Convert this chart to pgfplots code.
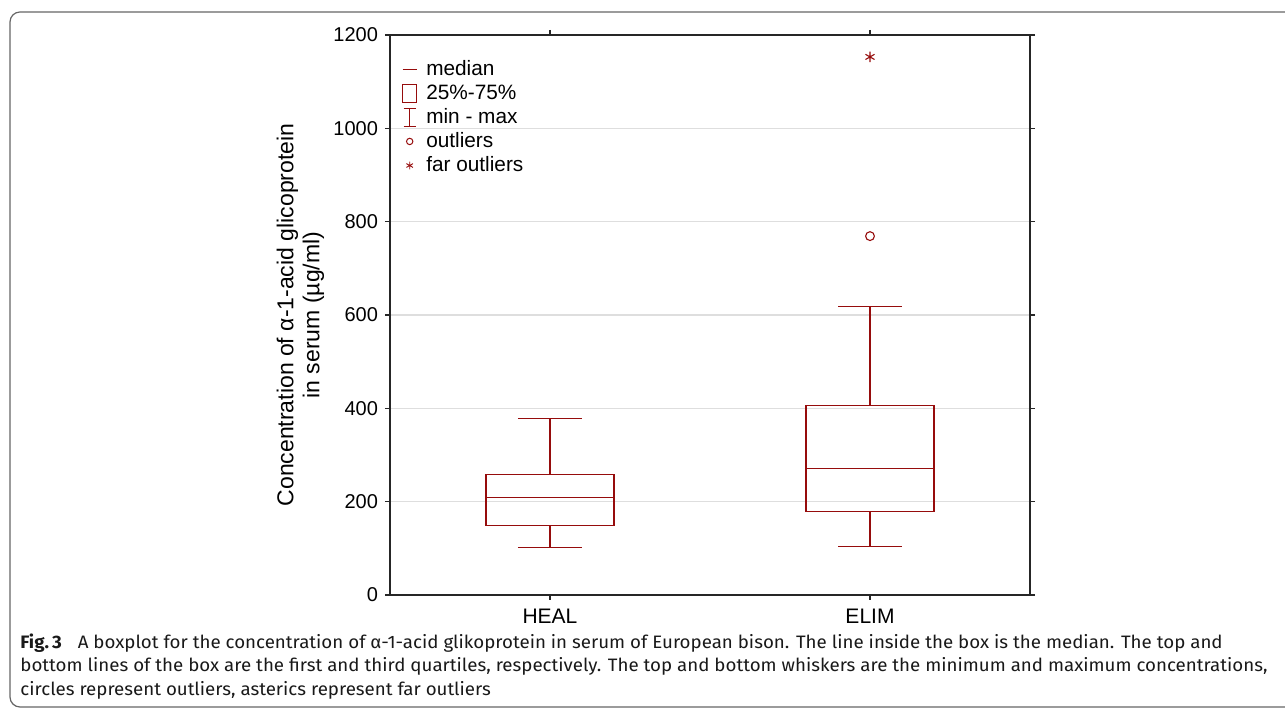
\documentclass[border=0pt]{standalone}
\usepackage{fontspec}
\setmainfont{Liberation Sans}
\newfontfamily\capfont[FakeStretch=1.04]{Fira Sans}
\usepackage{pgfplots}
\pgfplotsset{compat=1.18}
\definecolor{dred}{RGB}{150,12,12}
\definecolor{gridgray}{RGB}{222,222,222}
\begin{document}
\begin{tikzpicture}
\path (-195pt,-60pt) rectangle (447.5pt,297.5pt);
\begin{axis}[
  at={(0,0)}, anchor=south west, scale only axis, width=320pt, height=280pt,
  xmin=-0.5, xmax=1.5, ymin=0, ymax=1200,
  xtick={0,1}, xticklabels={HEAL,ELIM},
  ytick={0,200,...,1200},
  ymajorgrids, grid style={gridgray, line width=0.6pt},
  tick align=outside, major tick length=2.5pt,
  axis line style={black!85, line width=0.8pt},
  tick style={black!85, line width=0.8pt},
  yticklabel style={font=\fontsize{10}{12}\selectfont},
  xticklabel style={font=\fontsize{10.5}{12}\selectfont, yshift=-1pt},
  /pgf/number format/assume math mode=true,
  /pgf/number format/1000 sep={},
  ylabel={Concentration of α-1-acid glicoprotein\\in serum (µg/ml)},
  ylabel style={align=center, at={(axis description cs:-0.14,0.5)}, anchor=center, font=\fontsize{11.5}{13}\selectfont},
  legend style={at={(0.009,0.969)}, anchor=north west, draw=none, fill=none,
    font=\fontsize{10.4}{12}\selectfont, row sep=-1pt, column sep=2.5pt},
  legend cell align=left,
  every axis plot/.append style={dred, line width=0.55pt},
]
% HEAL: box, median, whiskers
\addplot[forget plot] coordinates {(-0.2,148) (0.2,148) (0.2,259) (-0.2,259) (-0.2,148)};
\addplot[forget plot] coordinates {(-0.2,208) (0.2,208)};
\addplot[forget plot] coordinates {(0,259) (0,379)};
\addplot[forget plot] coordinates {(0,148) (0,101)};
\addplot[forget plot] coordinates {(-0.1,379) (0.1,379)};
\addplot[forget plot] coordinates {(-0.1,101) (0.1,101)};
% ELIM
\addplot[forget plot] coordinates {(0.8,178) (1.2,178) (1.2,407) (0.8,407) (0.8,178)};
\addplot[forget plot] coordinates {(0.8,272) (1.2,272)};
\addplot[forget plot] coordinates {(1,407) (1,619)};
\addplot[forget plot] coordinates {(1,178) (1,103)};
\addplot[forget plot] coordinates {(0.9,619) (1.1,619)};
\addplot[forget plot] coordinates {(0.9,103) (1.1,103)};
\addplot[only marks, mark=o, mark size=2.2pt, line width=0.55pt, forget plot] coordinates {(1,769)};
\addplot[only marks, mark=asterisk, mark size=2.6pt, line width=0.55pt, forget plot] coordinates {(1,1153)};
\addlegendimage{dred, line width=0.55pt, legend image code/.code={\draw (0pt,0pt) -- (7pt,0pt); \path[draw=none] (0pt,-4.5pt) rectangle (7pt,4.5pt);}}
\addlegendentry{median}
\addlegendimage{dred, line width=0.55pt, legend image code/.code={\draw (0pt,-4.5pt) rectangle (7pt,4.5pt);}}
\addlegendentry{25\%-75\%}
\addlegendimage{dred, line width=0.55pt, legend image code/.code={\draw (0.5pt,4.5pt) -- (6.5pt,4.5pt) (3.5pt,4.5pt) -- (3.5pt,-4.5pt) (0.5pt,-4.5pt) -- (6.5pt,-4.5pt); \path[draw=none] (0pt,0pt) -- (7pt,0pt);}}
\addlegendentry{min - max}
\addlegendimage{dred, line width=0.5pt, legend image code/.code={\draw (3.5pt,0pt) circle (1.6pt); \path[draw=none] (0pt,0pt) -- (7pt,0pt);}}
\addlegendentry{outliers}
\addlegendimage{dred, line width=0.45pt, legend image code/.code={\draw (3.5pt,1.9pt) -- (3.5pt,-1.9pt) (1.85pt,0.95pt) -- (5.15pt,-0.95pt) (1.85pt,-0.95pt) -- (5.15pt,0.95pt); \path[draw=none] (0pt,0pt) -- (7pt,0pt);}}
\addlegendentry{far outliers}
\end{axis}
\draw[overlay, black!60, line width=0.6pt, rounded corners=5pt] (460pt,291.5pt) -- (-190pt,291.5pt) -- (-190pt,-56pt) -- (460pt,-56pt);
\begin{scope}[every node/.style={anchor=base west, inner sep=0pt, font=\capfont\fontsize{9}{12}\selectfont, text=black!90}]
\node at (-185pt,-27pt) {{\bfseries Fig.\,3}\hspace{8pt}A boxplot for the concentration of α-1-acid glikoprotein in serum of European bison. The line inside the box is the median. The top and};
\node at (-185pt,-38.5pt) {bottom lines of the box are the first and third quartiles, respectively. The top and bottom whiskers are the minimum and maximum concentrations,};
\node at (-185pt,-50.5pt) {circles represent outliers, asterics represent far outliers};
\end{scope}
\end{tikzpicture}
\end{document}
